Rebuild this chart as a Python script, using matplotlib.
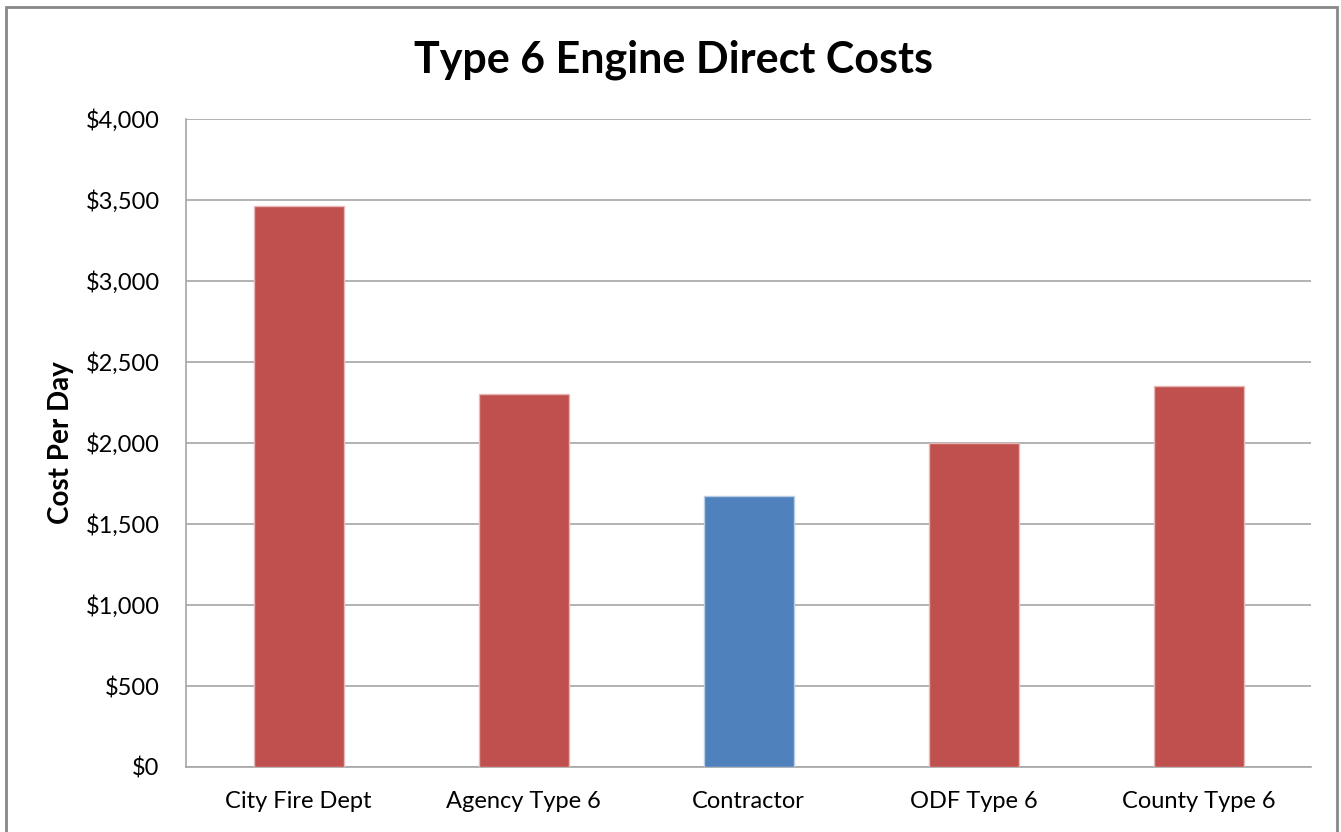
import matplotlib
matplotlib.use("Agg")
import matplotlib.pyplot as plt
from matplotlib.patches import Rectangle
from matplotlib.ticker import FuncFormatter, MultipleLocator

categories = ["City Fire Dept", "Agency Type 6", "Contractor", "ODF Type 6", "County Type 6"]
costs = [3465, 2300, 1670, 2000, 2350]
colors = ["#C0504D", "#C0504D", "#4F81BD", "#C0504D", "#C0504D"]
edge_colors = ["#E6B8B7", "#E6B8B7", "#B9CDE5", "#E6B8B7", "#E6B8B7"]

plt.rcParams['font.family'] = ['Lato', 'DejaVu Sans']

W, H = 1341, 832
fig = plt.figure(figsize=(W / 100, H / 100), dpi=100)
fig.patch.set_facecolor("white")

# outer chart border
fig.add_artist(Rectangle((6 / W, -0.05), (1337 - 6) / W, 1.05 - 7 / H,
                         transform=fig.transFigure, fill=False,
                         edgecolor="#888888", linewidth=2))

ax = fig.add_axes([186 / W, 1 - 767 / H, (1311 - 186) / W, (767 - 119) / H])
x = range(len(categories))
ax.bar(x, costs, width=0.4, color=colors, edgecolor=edge_colors, linewidth=1, zorder=3)
ax.set_xlim(-0.5, len(categories) - 0.5)
ax.set_ylim(0, 4000)
ax.yaxis.set_major_locator(MultipleLocator(500))
ax.yaxis.set_major_formatter(FuncFormatter(lambda v, p: f"${v:,.0f}"))
ax.set_xticks(list(x))
ax.set_xticklabels(categories)
ax.grid(axis="y", color="#A6A6A6", linewidth=1.2, zorder=0)
ax.tick_params(axis="both", length=0, labelsize=17, colors="#000000")
ax.tick_params(axis="x", pad=17)
ax.tick_params(axis="y", pad=19)
for s in ["top", "right"]:
    ax.spines[s].set_visible(False)
for s in ["left", "bottom"]:
    ax.spines[s].set_color("#A6A6A6")
    ax.spines[s].set_linewidth(1.2)

ax.set_ylabel("Cost Per Day", fontsize=20, fontweight="bold", labelpad=8)
fig.text(673 / W, 1 - 60 / H, "Type 6 Engine Direct Costs", ha="center", va="center",
         fontsize=31, fontweight="bold")

fig.savefig("out.png", dpi=100)
